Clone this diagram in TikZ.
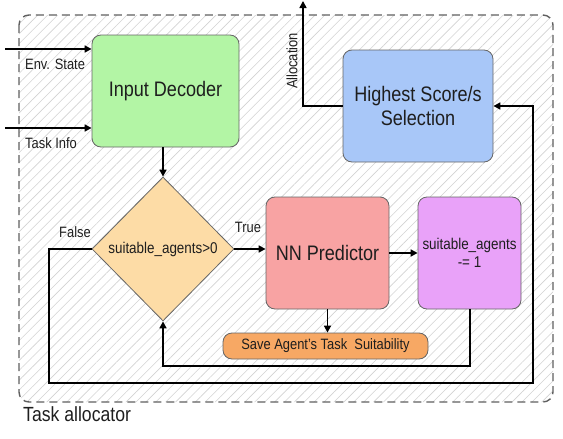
\documentclass[tikz,border=0pt]{standalone}
\usepackage{fontspec}
\setmainfont[FakeStretch=0.86]{Liberation Sans}
\usetikzlibrary{shapes.geometric,arrows.meta,patterns.meta,calc}
\definecolor{idgreen}{HTML}{B3F5A5}
\definecolor{hsblue}{HTML}{A8C7F8}
\definecolor{nnred}{HTML}{F8A3A3}
\definecolor{sapurple}{HTML}{E9A2F9}
\definecolor{diaorange}{HTML}{FDDCA6}
\definecolor{pillorange}{HTML}{F7A864}
\definecolor{edgegray}{HTML}{666666}
\definecolor{txt}{HTML}{1E1E1E}
\tikzset{
  x=1pt,y=1pt,
  blockbox/.style={draw=edgegray,line width=0.8pt,rounded corners=9pt,inner sep=2pt,align=center,text=txt},
  flow/.style={line width=1.6pt,-{Triangle[length=7pt,width=7pt]}},
  lbl/.style={font=\fontsize{15}{17}\selectfont,text=txt,inner sep=0pt},
}
\begin{document}
\begin{tikzpicture}
\useasboundingbox (0,0) rectangle (563,-439);
% container
\draw[draw=none,pattern={Lines[angle=45,distance=7pt,line width=0.6pt]},pattern color=gray!35,rounded corners=10pt] (19,-15) rectangle (553,-402);
\draw[draw=gray!75!black,line width=1.4pt,dash pattern=on 8pt off 5pt,rounded corners=10pt] (19,-15) rectangle (553,-402);
\node[lbl,font=\fontsize{20.5}{23}\selectfont,anchor=west] (ta) at (23,-414) {Task allocator};

% blocks
\node[blockbox,fill=idgreen,minimum width=147pt,minimum height=112pt,font=\fontsize{21}{24}\selectfont] (id) at (165.5,-91) {Input Decoder};
\node[draw=edgegray,line width=0.8pt,fill=diaorange,diamond,minimum width=142pt,minimum height=144pt,inner sep=0pt,text=txt,font=\fontsize{15.6}{18}\selectfont] (dia) at (163,-249) {suitable\_agents>0};
\node[blockbox,fill=nnred,minimum width=123pt,minimum height=112pt,font=\fontsize{21}{24}\selectfont] (nn) at (327.5,-253) {NN Predictor};
\node[blockbox,fill=sapurple,minimum width=103pt,minimum height=112pt,font=\fontsize{15.6}{18}\selectfont] (sa) at (469.5,-253) {suitable\_agents\\-= 1};
\node[blockbox,fill=pillorange,rounded corners=9pt,minimum width=205pt,minimum height=26pt,font=\fontsize{15}{17}\selectfont] (pill) at (325.5,-346) {Save Agent's Task\ \ Suitability};
\node[blockbox,fill=hsblue,minimum width=150pt,minimum height=112pt,font=\fontsize{21}{24}\selectfont] (hs) at (418,-106) {Highest Score/s\\Selection};

% inputs
\coordinate (envin) at (5,-49);
\coordinate (taskin) at (5,-128);
\draw[flow] (envin) -- (envin -| id.west);
\draw[flow] (taskin) -- (taskin -| id.west);
\node[lbl,anchor=west] (envl) at (25,-64) {Env. State};
\node[lbl,anchor=west] (taskl) at (25,-143) {Task Info};

% flow
\draw[flow] (id.south -| dia.north) -- (dia.north);
\draw[flow] (dia.east) -- (dia.east -| nn.west);
\node[lbl] (truel) at (248,-227) {True};
\draw[flow] (nn.east) -- (sa.west);
\draw[flow] (nn.south) -- (nn.south |- pill.north);
\coordinate (loopc) at (470,-366);
\draw[flow] (sa.south -| loopc) -- (loopc) -| (dia.south);

% false branch
\node[lbl] (falsel) at (75,-232) {False};
\coordinate (f1) at (49,-249);
\coordinate (f2) at (49,-383);
\coordinate (f3) at (533,-383);
\draw[flow] (dia.west) -- (f1) -- (f2) -- (f3) |- (hs.east);

% allocation output
\coordinate (alloc) at (303,-1);
\draw[flow] (hs.west) -| (alloc);
\node[lbl,rotate=90] (allocl) at (292,-61) {Allocation};
\end{tikzpicture}
\end{document}
